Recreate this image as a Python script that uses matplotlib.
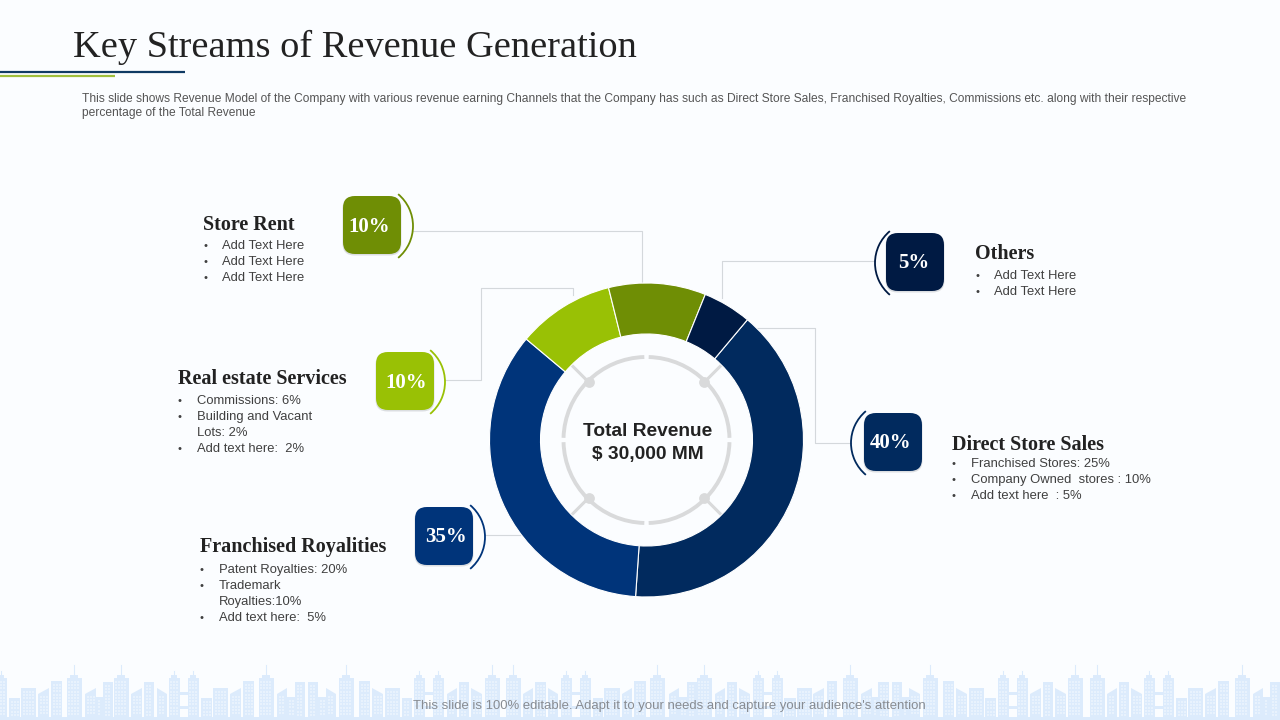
import matplotlib
matplotlib.use("Agg")
import numpy as np
import matplotlib.pyplot as plt
from matplotlib.patches import Arc, FancyBboxPatch, Rectangle, Polygon

# Chart data
streams = ['Direct Store Sales', 'Franchised Royalities', 'Real estate Services', 'Store Rent', 'Others']
shares = [40, 35, 10, 10, 5]
colors = ['#012A5E', '#00347A', '#99C105', '#6F8E05', '#001A43']
details = [
    ['Franchised Stores: 25%', 'Company Owned  stores : 10%', 'Add text here  : 5%'],
    ['Patent Royalties: 20%', 'Trademark\nRoyalties:10%', 'Add text here:  5%'],
    ['Commissions: 6%', 'Building and Vacant\nLots: 2%', 'Add text here:  2%'],
    ['Add Text Here', 'Add Text Here', 'Add Text Here'],
    ['Add Text Here', 'Add Text Here'],
]

title = 'Key Streams of Revenue Generation'
subtitle = ('This slide shows Revenue Model of the Company with various revenue earning Channels that the Company '
            'has such as Direct Store Sales, Franchised Royalties, Commissions etc. along with their respective\n'
            'percentage of the Total Revenue')
center_lines = ['Total Revenue', '$ 30,000 MM']
footer = "This slide is 100% editable. Adapt it to your needs and capture your audience's attention"

# Layout in slide pixels: badge left/top, arc bulge x, heading x/baseline, side of arc
badges = [(864, 413), (415, 507), (376, 352), (343, 196), (886, 233)]
badge_label_x = [891, 445.5, 406.5, 369.5, 914]
arcs = [(851, 443, 'left'), (485, 537, 'right'), (445, 382, 'right'), (413, 226, 'right'), (875, 263, 'left')]
headings = [(952, 445), (200, 547), (178, 379), (203, 225), (975, 254)]
bullet_tops = [464, 570, 401, 246, 276]
bullet_x = [952, 200, 178, 203, 975]
connectors = [
    [(851, 443), (815, 443), (815, 328), (757, 328)],
    [(485, 535), (520, 535)],
    [(445, 380), (481, 380), (481, 288), (573, 288), (573, 295)],
    [(413, 231), (642, 231), (642, 284)],
    [(875, 261), (722, 261), (722, 298)],
]

# Skyline decoration at the foot of the slide
tall_towers = [74, 121, 266, 346, 492, 513, 657, 704, 850, 930, 1075, 1097, 1242]
short_towers = [1, 174, 193, 419, 438, 566, 585, 758, 777, 1003, 1022, 1149, 1168]
blocks = [(9, 20, 698), (21, 36, 688), (51, 62, 681), (103, 113, 682), (144, 154, 682), (96, 103, 697),
          (201, 212, 698), (213, 228, 688), (243, 254, 681), (295, 305, 682), (308, 318, 682), (318, 326, 697),
          (287, 295, 697), (359, 370, 681), (385, 400, 688), (402, 412, 698), (459, 469, 682), (535, 546, 682),
          (593, 603, 698), (604, 620, 688), (634, 646, 681), (679, 687, 697), (687, 697, 682), (727, 737, 682),
          (784, 796, 698), (797, 812, 688), (827, 837, 681), (872, 878, 697), (878, 889, 682), (892, 902, 682),
          (902, 909, 697), (943, 954, 681), (969, 984, 688), (985, 996, 698), (1043, 1053, 682), (1119, 1129, 682),
          (1176, 1187, 698), (1188, 1203, 688), (1218, 1229, 681), (1263, 1270, 697), (1270, 1280, 682)]
slanted = [(38, 49, 1), (85, 96, 1), (131, 142, 1), (157, 167, -1), (230, 241, 1), (277, 287, 1), (326, 336, -1),
           (372, 383, -1), (447, 457, 1), (471, 482, -1), (523, 533, 1), (548, 558, -1), (622, 632, 1), (669, 679, 1),
           (715, 725, 1), (739, 750, -1), (813, 824, 1), (861, 872, 1), (909, 920, -1), (956, 967, -1), (1030, 1041, 1),
           (1055, 1066, -1), (1107, 1117, 1), (1131, 1142, -1), (1205, 1216, 1), (1253, 1263, 1)]
bridges = [(180, 188), (425, 433), (572, 580), (763, 772), (1009, 1017), (1155, 1163)]

plt.rcParams['font.family'] = ['Liberation Sans', 'DejaVu Sans']
bg = '#FBFDFF'
sky = '#DCEBFC'
window = '#E8F2FD'
line_grey = '#D4D8DC'
ring_grey = '#D9DADB'
text_dark = '#222222'
text_body = '#404040'

fig = plt.figure(figsize=(12.8, 7.2), dpi=100, facecolor=bg)
ax = fig.add_axes([0, 0, 1, 1])
ax.set_xlim(0, 1280)
ax.set_ylim(720, 0)
ax.axis('off')

# skyline
win_x, win_y = [], []


def add_windows(x0, x1, top):
    for wx in np.arange(x0 + 2.5, x1 - 1.5, 3):
        for wy in np.arange(top + 4, 715, 3.2):
            win_x.append(wx)
            win_y.append(wy)


for cx, w, spire in [(c, 15, 665) for c in tall_towers] + [(c, 11, 671) for c in short_towers]:
    top = 678
    ax.add_patch(Rectangle((cx - w / 2, top), w, 720 - top, color=sky, lw=0, zorder=1))
    ax.add_patch(Rectangle((cx - w / 4, top - 3), w / 2, 4, color=sky, lw=0, zorder=1))
    ax.plot([cx, cx], [spire, top], color=sky, lw=0.8, zorder=1)
    add_windows(cx - w / 2, cx + w / 2, top)
for x0, x1, top in blocks:
    ax.add_patch(Rectangle((x0, top), x1 - x0, 720 - top, color=sky, lw=0, zorder=1))
    add_windows(x0, x1, top)
for x0, x1, d in slanted:
    y0, y1 = (694, 688) if d > 0 else (688, 694)
    ax.add_patch(Polygon([(x0, 720), (x0, y0), (x1, y1), (x1, 720)], color=sky, lw=0, zorder=1))
    add_windows(x0, x1, 693)
for x0, x1 in bridges:
    ax.add_patch(Rectangle((x0, 692), x1 - x0, 3, color=sky, lw=0, zorder=1))
    ax.add_patch(Rectangle((x0, 706), x1 - x0, 3, color=sky, lw=0, zorder=1))
ax.add_patch(Rectangle((0, 717), 1280, 3, color=sky, lw=0, zorder=1))
ax.scatter(win_x, win_y, s=0.8, marker='s', color=window, linewidths=0, zorder=2)

# title block
ax.text(73, 47, title, fontsize=27.6, family='Liberation Serif', color=text_dark, va='center', ha='left')
ax.plot([0, 185], [72, 72], color='#0F3A63', lw=1.6, solid_capstyle='butt')
ax.plot([0, 115], [75.5, 75.5], color='#A0BF3C', lw=1.6, solid_capstyle='butt')
ax.text(82, 106, subtitle, fontsize=8.62, color='#555555', va='center', ha='left', linespacing=1.17)

# connectors sit under the donut and the badges
for pts in connectors:
    xs, ys = zip(*pts)
    ax.plot(xs, ys, color=line_grey, lw=0.8, zorder=3)

# badges, arcs, headings, bullet lists
for i, name in enumerate(streams):
    bx, by = badges[i]
    ax.add_patch(FancyBboxPatch((bx + 8, by + 9), 42, 42, boxstyle='round,pad=8.5,rounding_size=12',
                                fc='#8A8F96', ec='none', alpha=0.28, zorder=4))
    ax.add_patch(FancyBboxPatch((bx + 8, by + 8), 42, 42, boxstyle='round,pad=8,rounding_size=12',
                                fc=colors[i], ec='none', zorder=5))
    ax.text(badge_label_x[i], by + 30.5, f'{shares[i]}%', color='white', fontsize=15, fontweight='bold',
            family='Liberation Serif', ha='center', va='center', zorder=6)

    ax_x, ax_y, side = arcs[i]
    radius = 41.6
    if side == 'right':
        ax.add_patch(Arc((ax_x - radius, ax_y), 2 * radius, 2 * radius, theta1=-50, theta2=50,
                         color=colors[i], lw=1.3, zorder=4))
    else:
        ax.add_patch(Arc((ax_x + radius, ax_y), 2 * radius, 2 * radius, theta1=130, theta2=230,
                         color=colors[i], lw=1.3, zorder=4))

    hx, hy = headings[i]
    ax.text(hx, hy, name, fontsize=14.5, fontweight='bold', family='Liberation Serif', color=text_dark,
            ha='left', va='center')
    y = bullet_tops[i]
    for item in details[i]:
        ax.text(bullet_x[i], y, '•', fontsize=8, color=text_body, ha='left', va='center')
        for row in item.split('\n'):
            ax.text(bullet_x[i] + 19, y, row, fontsize=9.35, color=text_body, ha='left', va='center')
            y += 16

# inner gauge ring
cx, cy = 646.5, 440
ring_r = 83
for a0 in [0, 90, 180, 270]:
    ax.add_patch(Arc((cx, cy), 2 * ring_r, 2 * ring_r, theta1=a0 + 1.5, theta2=a0 + 88.5,
                     color=ring_grey, lw=2.8, zorder=3))
for a in [45, 135, 225, 315]:
    ca, sa = np.cos(np.radians(a)), np.sin(np.radians(a))
    ax.plot([cx + 82 * ca, cx + 106 * ca], [cy + 82 * sa, cy + 106 * sa], color=ring_grey, lw=2.2, zorder=3)
    ax.scatter(cx + 82 * ca, cy + 82 * sa, s=60, color=ring_grey, linewidths=0, zorder=3)
ax.text(648, 431, center_lines[0], fontsize=13.8, fontweight='bold', color=text_dark, ha='center', va='center', zorder=6)
ax.text(648, 454, center_lines[1], fontsize=13.8, fontweight='bold', color=text_dark, ha='center', va='center', zorder=6)

ax.text(669, 706, footer, fontsize=9.45, color='#888C92', ha='center', va='center', zorder=6)

# donut
r_px = 157
ax_pie = fig.add_axes([(cx - r_px) / 1280, (720 - cy - r_px) / 720, 2 * r_px / 1280, 2 * r_px / 720])
ax_pie.pie(shares, colors=colors, startangle=50, counterclock=False, radius=1,
           wedgeprops={'width': 51 / 157, 'edgecolor': 'white', 'linewidth': 0.8})
ax_pie.set_xlim(-1, 1)
ax_pie.set_ylim(-1, 1)
ax_pie.patch.set_alpha(0)
for w in ax_pie.patches:
    w.set_clip_on(False)

fig.savefig('out.png', dpi=100, facecolor=bg)
